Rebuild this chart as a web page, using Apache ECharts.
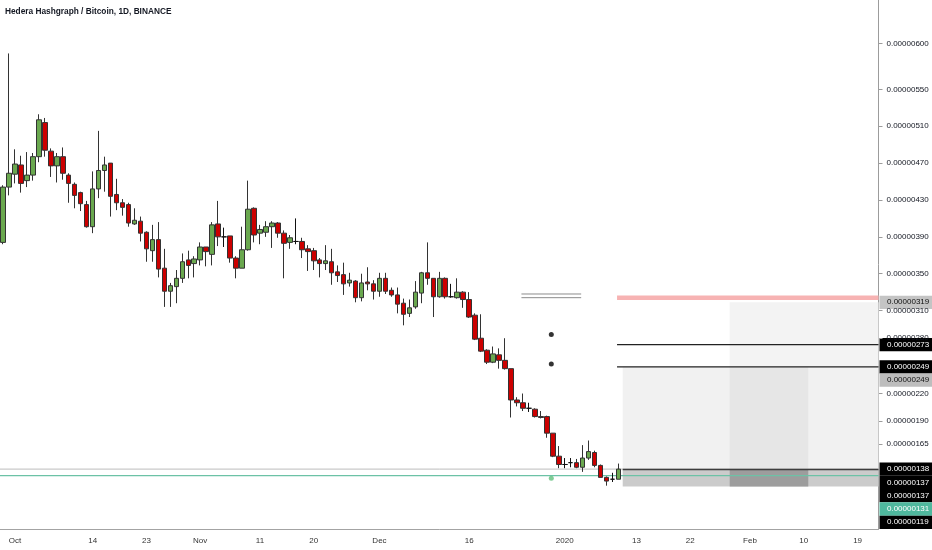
<!DOCTYPE html>
<html>
<head>
<meta charset="utf-8">
<title>Hedera Hashgraph / Bitcoin, 1D, BINANCE</title>
<script src="https://cdn.jsdelivr.net/npm/echarts@6/dist/echarts.min.js"></script>
<style>
    html, body { margin: 0; padding: 0; background: #fff; }
    #chart { width: 932px; height: 550px; }
</style>
</head>
<body>
<div id="chart"></div>
<script>
// prices in satoshi (1e-8 BTC), one candle per day from 2019-09-29
var open  = [384,444,458,468,451,457,477,514,483,467,477,457,447,438,425,401,442,462,470,436,
             427,425,404,407,395,375,387,356,331,336,345,365,361,365,379,371,404,390,391,367,
             356,376,421,394,395,401,405,394,384,385,385,377,375,365,361,363,352,349,340,342,
             324,341,339,331,345,332,327,318,307,314,329,351,345,325,345,325,324,330,322,305,
             280,267,254,262,256,247,213,210,204,203,195,195,177,152,143,145,145,140,150,156,
             142,129,127,127];
var close = [444,459,469,448,457,477,517,484,467,477,459,448,435,426,401,442,462,468,434,427,
             422,405,408,394,377,387,355,331,337,345,363,359,366,379,374,403,390,390,367,356,
             376,420,392,398,401,405,394,383,389,385,376,374,364,361,364,351,348,339,343,324,
             340,339,331,345,331,327,317,306,313,330,351,345,325,345,325,325,330,322,303,279,
             266,254,263,256,247,213,210,204,204,195,194,177,152,143,143,145,140,150,157,142,
             129,125,127,138];
var low   = [382,435,448,438,444,451,471,477,455,449,452,427,421,418,400,394,432,439,412,419,
             413,401,403,385,363,363,346,314,314,318,340,345,346,359,358,359,380,379,362,345,
             356,375,384,382,390,378,389,345,377,382,367,353,354,346,354,338,341,327,336,319,
             320,332,322,325,328,325,307,294,303,312,318,338,303,324,323,324,323,313,302,278,
             265,252,253,247,246,194,206,201,200,194,193,172,151,139,139,140,139,135,148,140,
             129,120,124,127];
var high  = [446,589,485,478,482,481,523,519,486,481,487,459,449,439,429,461,505,477,470,453,
             431,427,421,412,396,403,406,377,340,354,372,375,369,384,379,406,429,400,391,369,
             401,451,422,403,407,407,406,397,392,410,389,381,378,367,381,377,359,362,351,343,
             350,357,343,351,351,335,335,323,322,342,352,384,345,352,346,339,345,331,330,307,
             306,268,271,269,280,247,216,220,210,204,201,196,177,163,150,150,149,164,169,158,
             143,130,134,144];

var dayCount = 147;
var firstDay = Date.UTC(2019, 8, 29);

var tickDays = ['2019-10-01','2019-10-14','2019-10-23','2019-11-01','2019-11-11','2019-11-20',
                '2019-12-01','2019-12-16','2020-01-01','2020-01-13','2020-01-22','2020-02-01',
                '2020-02-10','2020-02-19'];
var tickText = ['Oct','14','23','Nov','11','20','Dec','16','2020','13','22','Feb','10','19'];

var priceTicks = [600,550,510,470,430,390,350,310,280,220,190,165];

// drawings: [day index from, day index to, price low, price high]
var zoneTarget    = [121.6, 146.5, 249, 319];
var zoneProfit    = [103.7, 146.5, 137, 249];
var zoneProfitMid = [121.6, 134.75, 137, 249];
var zoneStop      = [103.7, 146.5, 119, 137];
var zoneStopMid   = [121.6, 134.75, 119, 137];

// horizontal levels: [day index from, day index to, price]
var lineStop  = [102.75, 146.5, 324];
var lineTp1   = [102.75, 146.5, 273];
var lineTp2   = [102.75, 146.5, 249];
var lineEntry = [103.7, 146.5, 137.5];
var lineLast  = [-0.5, 146.5, 138];
var lineRef   = [-0.5, 146.5, 131];
var lineNoteA = [86.75, 96.75, 328];
var lineNoteB = [86.75, 96.75, 324];

var dotsBlack = [[91.75, 284], [91.75, 252]];
var dotsGreen = [[91.75, 128]];

// right scale price tags: value, background, text colour
var tagValues = [319, 273, 249, 249, 138, 137, 137, 131, 119];
var tagBack   = ['#c4c4c4','#000','#000','#bdbdbd','#000','#000','#000','#4fb89e','#000'];
var tagInk    = ['#111','#fff','#fff','#111','#fff','#fff','#fff','#fff','#fff'];

var font = "'Liberation Sans', Arial, sans-serif";

var days = [];
for (var i = 0; i < dayCount; i++) {
    days.push(new Date(firstDay + i * 86400000).toISOString().slice(0, 10));
}
var candles = [];
for (var i = 0; i < open.length; i++) {
    candles.push([open[i], close[i], low[i], high[i]]);
}

function fmt(v) {
    return (v * 1e-8).toFixed(8);
}
function isTick(index, value) {
    return tickDays.indexOf(value) >= 0;
}

function zone(z, fill) {
    return {
        type: 'custom',
        xAxisIndex: 1,
        yAxisIndex: 0,
        z: 1,
        silent: true,
        data: [z],
        renderItem: function (params, api) {
            var p0 = api.coord([api.value(0), api.value(3)]);
            var p1 = api.coord([api.value(1), api.value(2)]);
            var shape = echarts.graphic.clipRectByRect(
                { x: p0[0], y: p0[1], width: p1[0] - p0[0], height: p1[1] - p0[1] },
                { x: params.coordSys.x, y: params.coordSys.y,
                  width: params.coordSys.width, height: params.coordSys.height });
            return shape && { type: 'rect', shape: shape, style: { fill: fill } };
        }
    };
}

function level(l, color, width, z) {
    return {
        type: 'line',
        xAxisIndex: 1,
        yAxisIndex: 0,
        z: z || 2,
        silent: true,
        symbol: 'none',
        data: [[l[0], l[2]], [l[1], l[2]]],
        lineStyle: { color: color, width: width }
    };
}

var chart = echarts.init(document.getElementById('chart'));

var option = {
    animation: false,
    backgroundColor: '#fff',
    title: {
        text: 'Hedera Hashgraph / Bitcoin, 1D, BINANCE',
        left: 5,
        top: 8,
        padding: 0,
        textStyle: { fontSize: 8.3, fontWeight: 'bold', color: '#131722', fontFamily: font }
    },
    grid: { left: -3.5, right: 53.5, top: 0, bottom: 21 },
    xAxis: [
        {
            type: 'category',
            data: days,
            boundaryGap: true,
            axisLine: { lineStyle: { color: '#a3a3a3' } },
            axisTick: { interval: isTick, alignWithLabel: true, length: 3, lineStyle: { color: '#a3a3a3' } },
            axisLabel: {
                interval: isTick,
                formatter: function (v) { return tickText[tickDays.indexOf(v)]; },
                color: '#333', fontSize: 8, fontFamily: font, margin: 8
            },
            splitLine: { show: false }
        },
        { type: 'value', min: -0.5, max: dayCount - 0.5, show: false }
    ],
    yAxis: {
        type: 'value',
        position: 'right',
        min: 73,
        max: 647,
        axisLine: { show: true, onZero: false, lineStyle: { color: '#9c9c9c' } },
        axisTick: { show: true, length: 4, customValues: priceTicks, lineStyle: { color: '#9c9c9c' } },
        axisLabel: { customValues: priceTicks, formatter: fmt, color: '#131722', fontSize: 8, fontFamily: font, margin: 8 },
        splitLine: { show: false }
    },
    series: [
        zone(zoneTarget, '#f3f3f3'),
        zone(zoneProfit, '#f1f1f1'),
        zone(zoneProfitMid, '#e6e6e6'),
        zone(zoneStop, '#cbcbcb'),
        zone(zoneStopMid, '#9d9d9d'),
        level(lineLast, '#bdbdbd', 1),
        level(lineRef, '#6cc2a6', 1.2),
        level(lineEntry, '#3d3d3d', 1.5),
        level(lineStop, '#f7b3b3', 4.5),
        level(lineTp1, '#222', 1.2),
        level(lineTp2, '#222', 1.2),
        level(lineNoteA, '#8c8c8c', 1),
        level(lineNoteB, '#8c8c8c', 1),
        {
            type: 'candlestick',
            xAxisIndex: 0,
            yAxisIndex: 0,
            z: 3,
            barWidth: 5,
            data: candles,
            itemStyle: {
                color: '#6aa84f',
                color0: '#cc0000',
                borderColor: '#333',
                borderColor0: '#333',
                borderColorDoji: '#111',
                borderWidth: 1
            }
        },
        {
            type: 'scatter',
            xAxisIndex: 1,
            yAxisIndex: 0,
            z: 4,
            symbolSize: 5,
            data: dotsBlack,
            itemStyle: { color: '#000' }
        },
        {
            type: 'scatter',
            xAxisIndex: 1,
            yAxisIndex: 0,
            z: 4,
            symbolSize: 5,
            data: dotsGreen,
            itemStyle: { color: '#62c07d' }
        }
    ]
};
chart.setOption(option);

// price tags on the scale, pushed down where they would overlap
var tagH = 13.3;
var prevY = -1e9;
var tags = [];
for (var i = 0; i < tagValues.length; i++) {
    var y = chart.convertToPixel({ yAxisIndex: 0 }, tagValues[i]);
    if (y < prevY + tagH) y = prevY + tagH;
    prevY = y;
    tags.push({
        type: 'group',
        z: 100,
        children: [
            { type: 'rect', shape: { x: 879.5, y: y - tagH / 2, width: 53, height: tagH }, style: { fill: tagBack[i] } },
            { type: 'text', x: 887, y: y, style: { text: fmt(tagValues[i]), fill: tagInk[i], font: '8px ' + font, verticalAlign: 'middle' } }
        ]
    });
}
chart.setOption({ graphic: tags });
</script>
</body>
</html>
